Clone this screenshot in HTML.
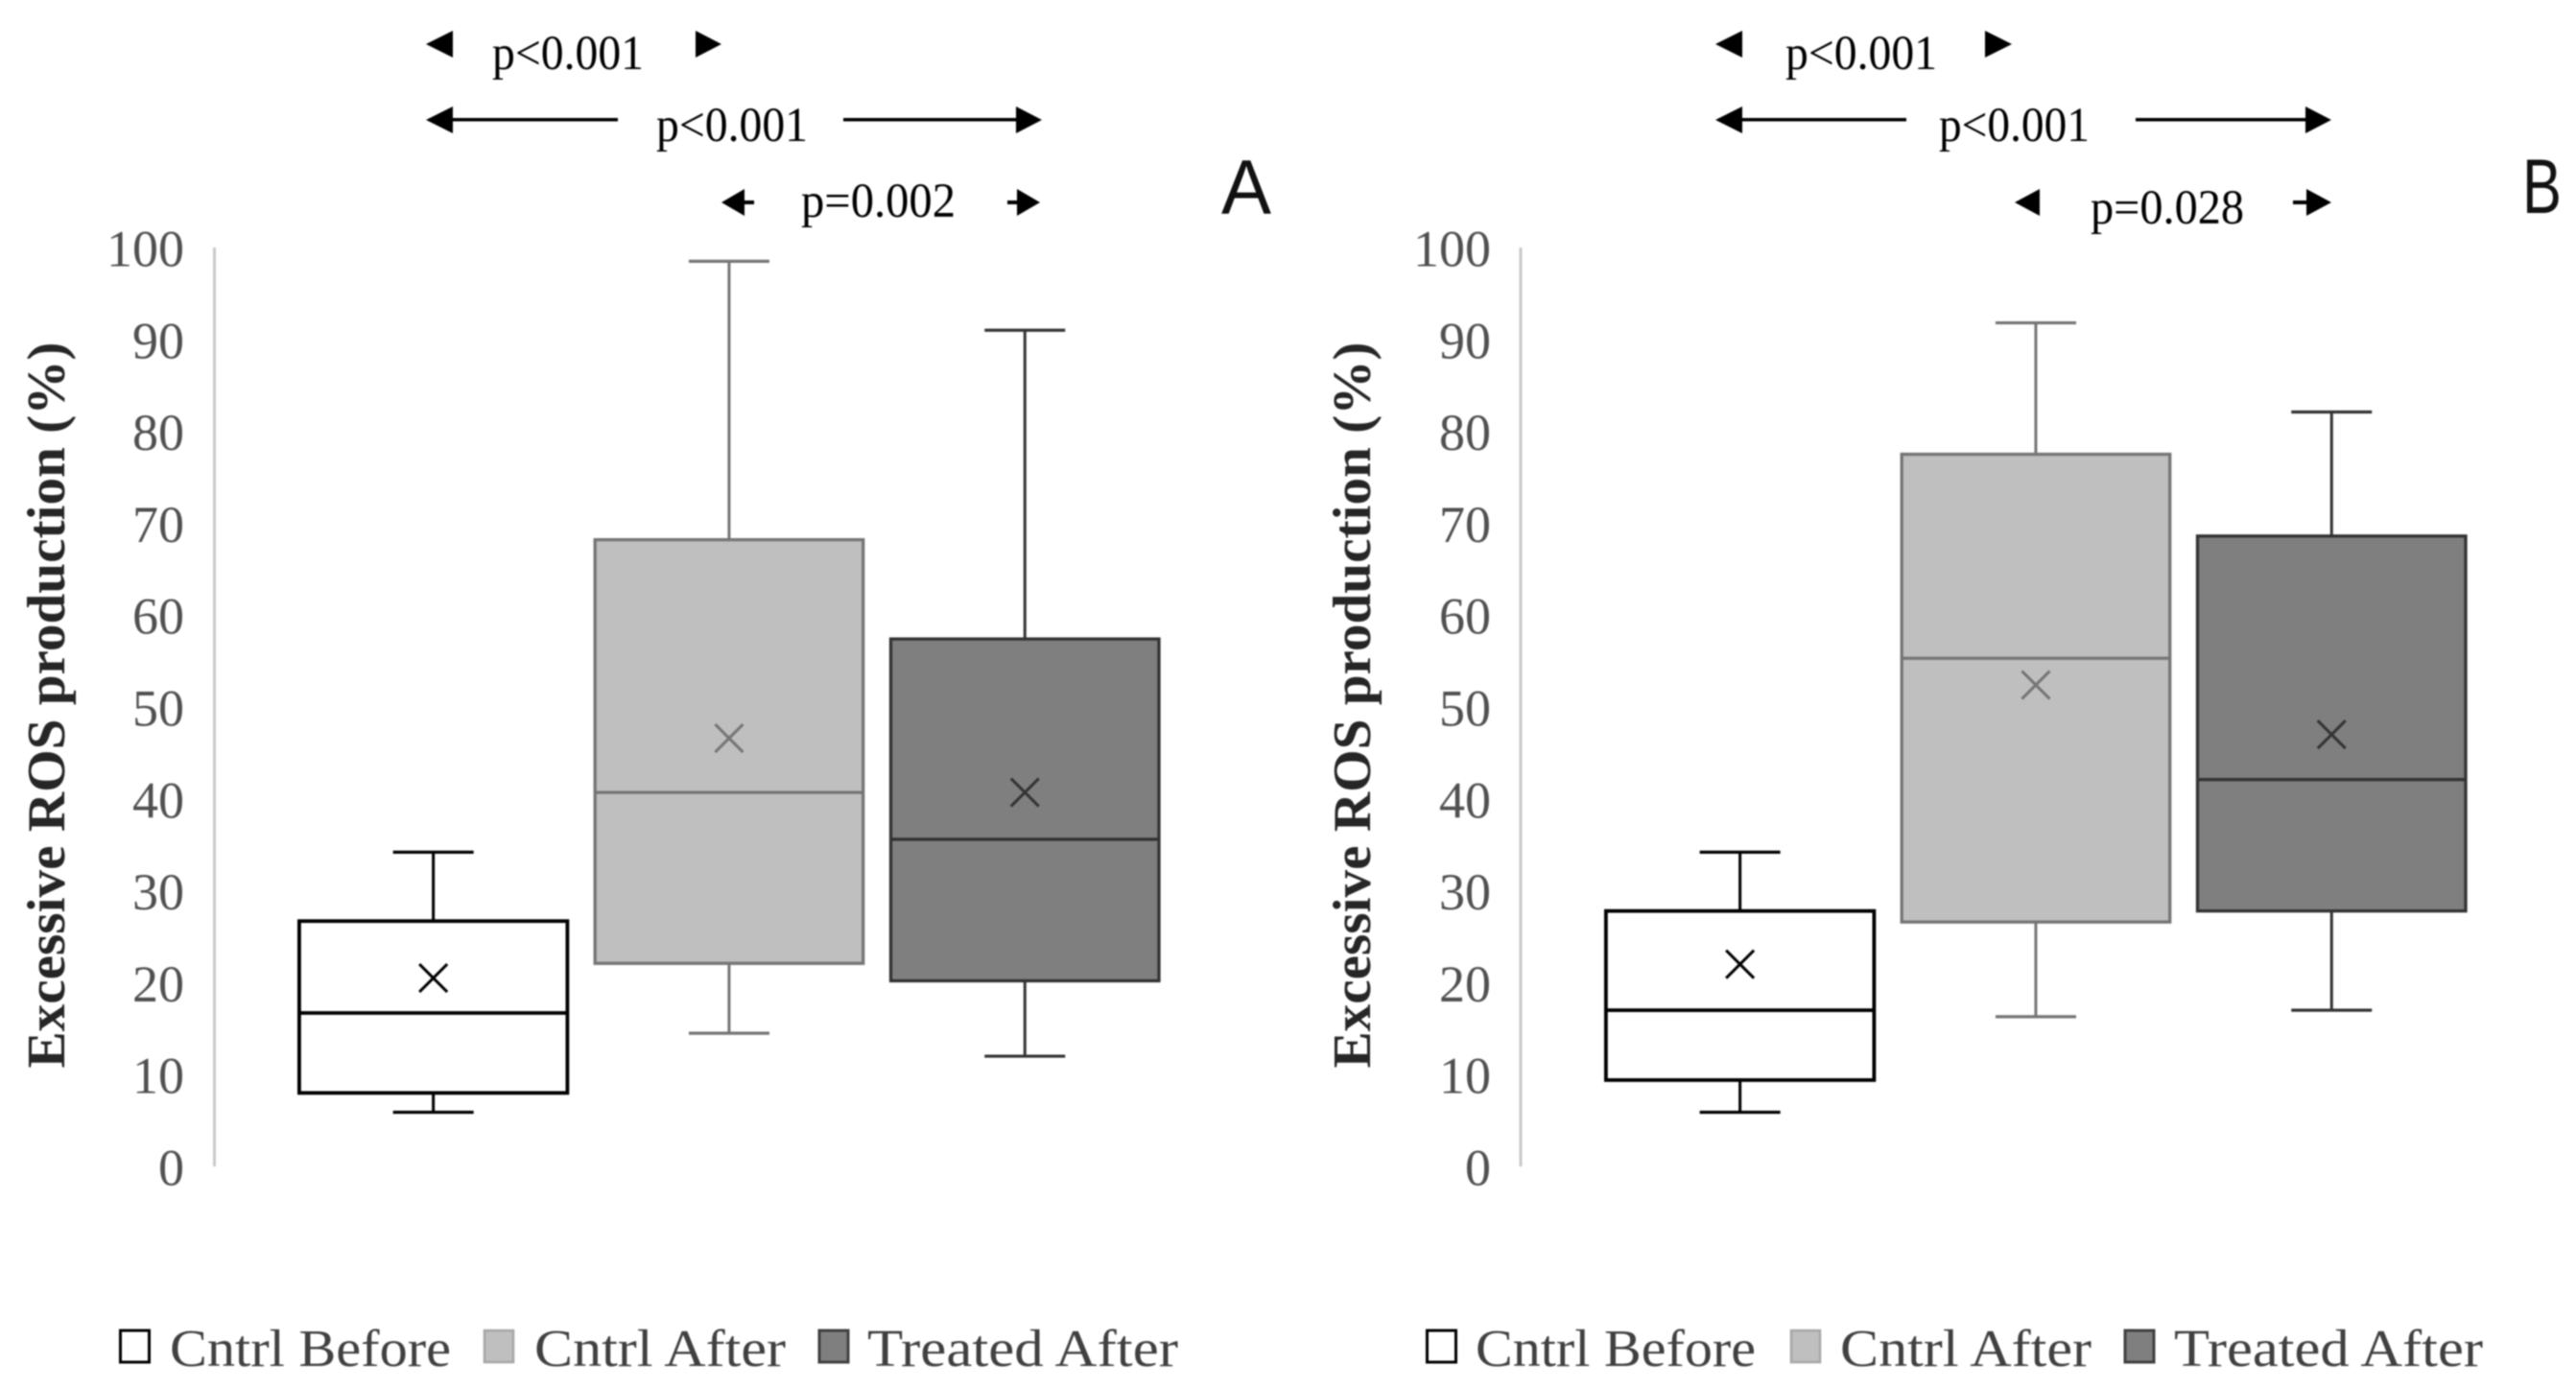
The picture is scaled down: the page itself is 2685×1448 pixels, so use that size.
<!DOCTYPE html>
<html lang="en">
<head>
<meta charset="utf-8">
<title>Excessive ROS production box plots</title>
<style>
  html, body { margin: 0; padding: 0; background: #fff; }
  body { width: 2685px; height: 1448px; overflow: hidden; }
  svg { display: block; filter: blur(0.7px); }
  text { font-family: "Liberation Serif", serif; }
  .tick { font-size: 54px; fill: #505050; text-anchor: end; }
  .title { font-size: 56px; font-weight: bold; fill: #262626; }
  .legend { font-size: 55px; fill: #404040; }
  .pval { font-size: 51px; fill: #000; }
  .panel { font-family: "Liberation Sans", sans-serif; font-size: 81px; fill: #111; }
</style>
</head>
<body>
<svg id="fig" width="2685" height="1448" viewBox="0 0 2685 1448" xmlns="http://www.w3.org/2000/svg">
  <rect width="2685" height="1448" fill="#fff"/>

  <!-- Panel A annotations -->
  <g fill="#000" stroke="none">
    <polygon points="444,46 472,32 472,60"/>
    <polygon points="752,46 725,32 725,60"/>
    <text class="pval" x="513" y="72" textLength="158" lengthAdjust="spacingAndGlyphs">p&lt;0.001</text>
    <polygon points="444,125 472,111 472,139"/>
    <rect x="466" y="123" width="178" height="3.5"/>
    <text class="pval" x="684" y="147" textLength="158" lengthAdjust="spacingAndGlyphs">p&lt;0.001</text>
    <rect x="879" y="123" width="186" height="3.5"/>
    <polygon points="1086,125 1059,111 1059,139"/>
    <polygon points="752,211 776,197 776,225"/>
    <rect x="770" y="209" width="16" height="4"/>
    <text class="pval" x="835" y="226" textLength="161" lengthAdjust="spacingAndGlyphs">p=0.002</text>
    <rect x="1050" y="209" width="16" height="4"/>
    <polygon points="1084,211 1060,197 1060,225"/>
    <text class="panel" x="1273" y="223" textLength="52" lengthAdjust="spacingAndGlyphs">A</text>
  </g>

  <!-- Panel B annotations -->
  <g fill="#000" stroke="none">
    <polygon points="1788,46 1816,32 1816,60"/>
    <polygon points="2097,46 2069,32 2069,60"/>
    <text class="pval" x="1861" y="72" textLength="158" lengthAdjust="spacingAndGlyphs">p&lt;0.001</text>
    <polygon points="1788,125 1816,111 1816,139"/>
    <rect x="1810" y="123" width="177" height="3.5"/>
    <text class="pval" x="2021" y="147" textLength="157" lengthAdjust="spacingAndGlyphs">p&lt;0.001</text>
    <rect x="2226" y="123" width="185" height="3.5"/>
    <polygon points="2430,125 2403,111 2403,139"/>
    <polygon points="2100,211 2126,197 2126,225"/>
    <text class="pval" x="2179" y="233" textLength="160" lengthAdjust="spacingAndGlyphs">p=0.028</text>
    <rect x="2390" y="209" width="18" height="4"/>
    <polygon points="2430,211 2404,197 2404,225"/>
    <text class="panel" x="2629" y="222" textLength="41" lengthAdjust="spacingAndGlyphs">B</text>
  </g>

  <!-- Legends -->
  <g>
    <g>
      <rect x="125.5" y="1387" width="30" height="33" fill="#fff" stroke="#000" stroke-width="3"/>
      <text class="legend" x="177" y="1424" textLength="293" lengthAdjust="spacingAndGlyphs">Cntrl Before</text>
    </g>
    <g>
      <rect x="505" y="1387" width="30" height="33" fill="#bfbfbf" stroke="#a6a6a6" stroke-width="2.5"/>
      <text class="legend" x="557" y="1424" textLength="262" lengthAdjust="spacingAndGlyphs">Cntrl After</text>
    </g>
    <g>
      <rect x="854" y="1387" width="30" height="33" fill="#7f7f7f" stroke="#404040" stroke-width="3"/>
      <text class="legend" x="904" y="1424" textLength="324" lengthAdjust="spacingAndGlyphs">Treated After</text>
    </g>
  </g>
  <g>
    <g>
      <rect x="1487.5" y="1387" width="30" height="33" fill="#fff" stroke="#000" stroke-width="3"/>
      <text class="legend" x="1538" y="1424" textLength="292" lengthAdjust="spacingAndGlyphs">Cntrl Before</text>
    </g>
    <g>
      <rect x="1867" y="1387" width="30" height="33" fill="#bfbfbf" stroke="#a6a6a6" stroke-width="2.5"/>
      <text class="legend" x="1918" y="1424" textLength="262" lengthAdjust="spacingAndGlyphs">Cntrl After</text>
    </g>
    <g>
      <rect x="2215" y="1387" width="30" height="33" fill="#7f7f7f" stroke="#404040" stroke-width="3"/>
      <text class="legend" x="2266" y="1424" textLength="322" lengthAdjust="spacingAndGlyphs">Treated After</text>
    </g>
  </g>
</svg>

<script>
// ---- chart data ----
var categories = ['cntrl-before', 'cntrl-after', 'treated-after'];
var tickLabels = [0, 10, 20, 30, 40, 50, 60, 70, 80, 90, 100];

var minA    = [5.9, 14.5, 12.0];
var q1A     = [8.0, 22.1, 20.2];
var medianA = [16.7, 40.7, 35.6];
var q3A     = [26.7, 68.2, 57.4];
var maxA    = [34.2, 98.5, 91.0];
var meanA   = [20.5, 46.6, 40.7];

var minB    = [5.9, 16.3, 17.0];
var q1B     = [9.4, 26.6, 27.8];
var medianB = [17.0, 55.3, 42.1];
var q3B     = [27.8, 77.5, 68.6];
var maxB    = [34.2, 91.8, 82.1];
var meanB   = [22.0, 52.4, 47.0];

// ---- styles and layout ----
var fills = ['#ffffff', '#bfbfbf', '#7f7f7f'];
var strokes = ['#000000', '#757575', '#333333'];
var svgNS = 'http://www.w3.org/2000/svg';
var fig = document.getElementById('fig');

var plotTop = 258, plotBottom = 1216, axisMax = 100;
function yScale(v) { return plotBottom - (v / axisMax) * (plotBottom - plotTop); }

function mk(parent, tag, geom) {
  var el = document.createElementNS(svgNS, tag);
  for (var k in geom) { el.setAttribute(k, geom[k]); }
  parent.appendChild(el);
  return el;
}

function drawPanel(id, cfg) {
  var band = 308.3, boxW = 279.5, capW = 84;
  function xScale(i) { return cfg.left + (i + 0.5) * band; }

  var g = mk(fig, 'g', {});
  
  

  var axis = mk(g, 'line', { x1: cfg.axisX, x2: cfg.axisX, y1: plotTop, y2: plotBottom, stroke: '#c9c9c9', 'stroke-width': 3 });
  
  

  tickLabels.forEach(function (t) {
    var lab = mk(g, 'text', { x: cfg.tickX, y: yScale(t) + 19.5, 'class': 'tick' });
    lab.textContent = String(t);
    
    
  });

  var title = mk(g, 'text', {
    'class': 'title',
    transform: 'translate(' + cfg.titleX + ',735) rotate(-90)',
    'text-anchor': 'middle',
    textLength: 757,
    lengthAdjust: 'spacingAndGlyphs'
  });
  title.textContent = 'Excessive ROS production (%)';
  
  

  categories.forEach(function (c, i) {
    var cx = xScale(i), col = strokes[i];
    var sw = i === 0 ? 3.8 : 3.3;

    var box = mk(g, 'g', {});
    
    

    var upper = mk(box, 'line', { x1: cx, x2: cx, y1: yScale(cfg.max[i]), y2: yScale(cfg.q3[i]), stroke: col, 'stroke-width': 3 });
    
    

    var lower = mk(box, 'line', { x1: cx, x2: cx, y1: yScale(cfg.q1[i]), y2: yScale(cfg.min[i]), stroke: col, 'stroke-width': 3 });
    
    

    var capTop = mk(box, 'line', { x1: cx - capW / 2, x2: cx + capW / 2, y1: yScale(cfg.max[i]), y2: yScale(cfg.max[i]), stroke: col, 'stroke-width': 3.2 });
    
    

    var capBot = mk(box, 'line', { x1: cx - capW / 2, x2: cx + capW / 2, y1: yScale(cfg.min[i]), y2: yScale(cfg.min[i]), stroke: col, 'stroke-width': 3.2 });
    
    

    var rect = mk(box, 'rect', {
      x: cx - boxW / 2, y: yScale(cfg.q3[i]),
      width: boxW, height: yScale(cfg.q1[i]) - yScale(cfg.q3[i]),
      fill: fills[i], stroke: col, 'stroke-width': sw
    });
    
    

    var med = mk(box, 'line', { x1: cx - boxW / 2, x2: cx + boxW / 2, y1: yScale(cfg.median[i]), y2: yScale(cfg.median[i]), stroke: col, 'stroke-width': sw });
    
    

    var my = yScale(cfg.mean[i]), r = 14.5;
    var mean = mk(box, 'path', {
      d: 'M' + (cx - r) + ' ' + (my - r) + 'L' + (cx + r) + ' ' + (my + r) + 'M' + (cx - r) + ' ' + (my + r) + 'L' + (cx + r) + ' ' + (my - r),
      fill: 'none', stroke: col, 'stroke-width': 3
    });
    
    
  });
}

drawPanel('a', { left: 297.5, axisX: 223.5, tickX: 192, titleX: 67, min: minA, q1: q1A, median: medianA, q3: q3A, max: maxA, mean: meanA });
drawPanel('b', { left: 1659.5, axisX: 1585, tickX: 1554, titleX: 1428, min: minB, q1: q1B, median: medianB, q3: q3B, max: maxB, mean: meanB });
</script>
</body>
</html>
